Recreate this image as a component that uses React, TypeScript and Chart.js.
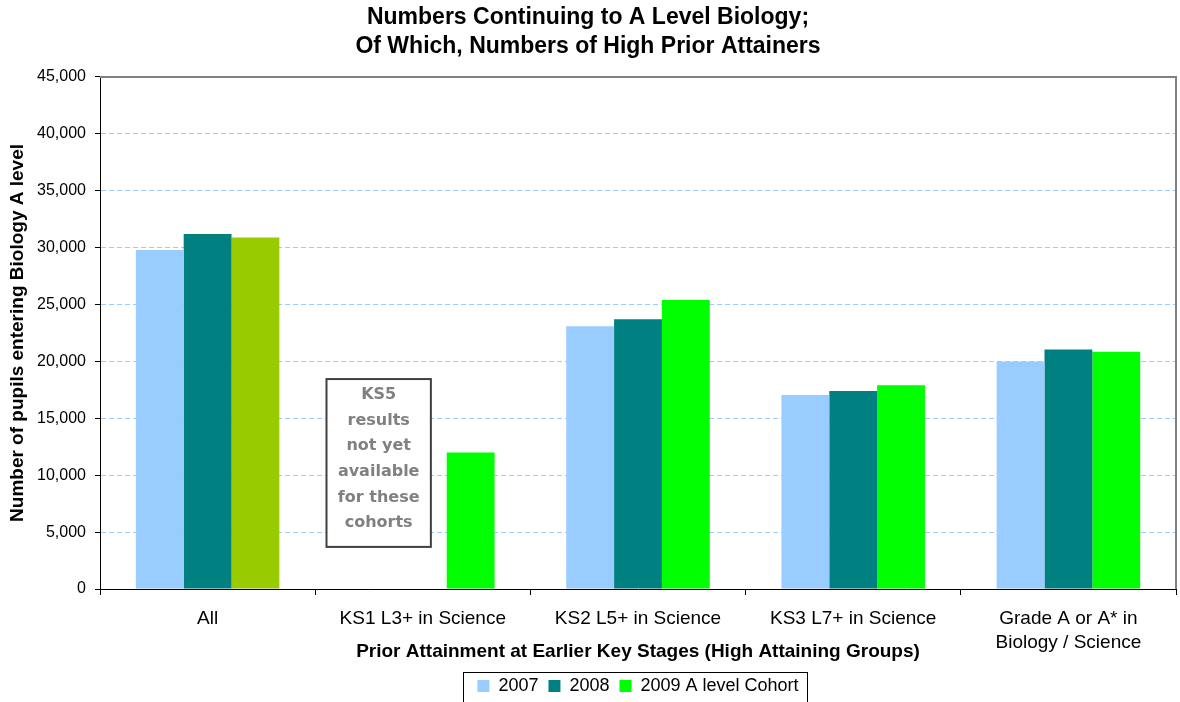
import React, { useEffect, useRef } from "react";
import { Chart, registerables } from "chart.js";

Chart.register(...registerables);

const categories: (string | string[])[] = [
  "All",
  "KS1 L3+ in Science",
  "KS2 L5+ in Science",
  "KS3 L7+ in Science",
  ["Grade A or A* in", "Biology / Science"],
];
const values2007: (number | null)[] = [29800, null, 23100, 17050, 20000];
const values2008: (number | null)[] = [31200, null, 23700, 17400, 21050];
const values2009: (number | null)[] = [30900, 12000, 25400, 17900, 20850];
const seriesLabels = ["2007", "2008", "2009 A level Cohort"];
const seriesColors = ["#99CCFF", "#008080", "#00FF00"];
const allCohortColor = "#99CC00";
const titleLines = ["Numbers Continuing to A Level Biology;", "Of Which, Numbers of High Prior Attainers"];
const yTitle = "Number of pupils entering Biology A level";
const xTitle = "Prior Attainment at Earlier Key Stages (High Attaining Groups)";
const noteLines = ["KS5", "results", "not yet", "available", "for these", "cohorts"];
const yMax = 45000;
const yStep = 5000;

const FONT = "'Liberation Sans', Arial, sans-serif";

export default function App() {
  const ref = useRef<HTMLCanvasElement | null>(null);
  useEffect(() => {
    if (!ref.current) return;
    const decor = {
      id: "decor",
      afterDatasetsDraw(chart: any) {
        const { ctx, scales } = chart;
        const x = scales.x;
        const y = scales.y;
        const catW = x.getPixelForValue(1) - x.getPixelForValue(0);
        const cx = x.getPixelForValue(1) - 0.205 * catW;
        const w = 0.485 * catW;
        const top = y.getPixelForValue(18450);
        const bot = y.getPixelForValue(3700);
        ctx.save();
        ctx.fillStyle = "#ffffff";
        ctx.fillRect(cx - w / 2, top, w, bot - top);
        ctx.strokeStyle = "#404040";
        ctx.lineWidth = 2;
        ctx.strokeRect(cx - w / 2, top, w, bot - top);
        ctx.fillStyle = "#808080";
        ctx.font = "bold 16px 'DejaVu Sans', Verdana, sans-serif";
        ctx.textAlign = "center";
        ctx.textBaseline = "middle";
        const lh = 25.6;
        noteLines.forEach((t, i) => ctx.fillText(t, cx, top + 16 + lh * i));
        ctx.restore();
      },
      afterDraw(chart: any) {
        const { ctx, chartArea, legend } = chart;
        ctx.save();
        ctx.strokeStyle = "#808080";
        ctx.lineWidth = 2;
        ctx.beginPath();
        ctx.moveTo(chartArea.left, chartArea.top);
        ctx.lineTo(chartArea.right, chartArea.top);
        ctx.lineTo(chartArea.right, chartArea.bottom);
        ctx.stroke();
        if (legend && legend.legendHitBoxes && legend.legendHitBoxes.length) {
          const hb = legend.legendHitBoxes;
          const l = Math.min(...hb.map((b: any) => b.left)) - 14;
          const r = Math.max(...hb.map((b: any) => b.left + b.width)) + 9;
          ctx.strokeStyle = "#000000";
          ctx.lineWidth = 1;
          ctx.strokeRect(Math.round(l) + 0.5, 672.5, Math.round(r - l), 40);
        }
        ctx.restore();
      },
    };
    const chart = new Chart(ref.current, {
      type: "bar",
      data: {
        labels: categories,
        datasets: [
          { label: seriesLabels[0], data: values2007, backgroundColor: seriesColors[0] },
          { label: seriesLabels[1], data: values2008, backgroundColor: seriesColors[1] },
          {
            label: seriesLabels[2],
            data: values2009,
            backgroundColor: (c: any) => (c.type === "data" && c.dataIndex === 0 ? allCohortColor : seriesColors[2]),
          },
        ],
      },
      options: {
        responsive: false,
        animation: false,
        layout: { padding: { left: 0, right: 4, top: 0, bottom: -3 } },
        datasets: { bar: { categoryPercentage: 0.667, barPercentage: 1, borderWidth: 0 } },
        plugins: {
          title: {
            display: true,
            text: titleLines,
            color: "#000",
            font: { family: FONT, size: 23, weight: "bold", lineHeight: 1.26 },
            padding: { top: 3, bottom: 16 },
          },
          legend: {
            position: "bottom",
            fullSize: false,
            labels: {
              color: "#000",
              font: { family: FONT, size: 18 },
              boxWidth: 12,
              boxHeight: 12,
              padding: 10,
              generateLabels: (ch: any) => {
                const items = Chart.defaults.plugins.legend.labels.generateLabels(ch);
                items.forEach((it: any, i: number) => {
                  it.fillStyle = seriesColors[i];
                  it.strokeStyle = seriesColors[i];
                  it.lineWidth = 0;
                });
                return items;
              },
            },
          },
          tooltip: { enabled: false },
        },
        scales: {
          x: {
            grid: {
              display: true,
              offset: true,
              drawOnChartArea: false,
              tickLength: 6,
              color: "#000",
            },
            border: { color: "#000", width: 1 },
            ticks: { color: "#000", font: { family: FONT, size: 19, lineHeight: 1.26 }, padding: 12, maxRotation: 0, autoSkip: false },
            title: {
              display: true,
              text: xTitle,
              color: "#000",
              font: { family: FONT, size: 19, weight: "bold" },
              padding: { top: 0, bottom: 4 },
            },
            afterFit: (s: any) => {
              s.height = 78;
            },
          },
          y: {
            min: 0,
            max: yMax,
            grid: {
              color: (c: any) => (c.tick && (c.tick.value === 0 || c.tick.value === yMax) ? "rgba(0,0,0,0)" : "#99CCFF"),
              tickColor: "#000",
              tickLength: 5,
              tickBorderDash: [],
            },
            border: { color: "#000", width: 1, dash: [5, 3] },
            ticks: {
              stepSize: yStep,
              color: "#000",
              padding: 9,
              font: { family: FONT, size: 16 },
              callback: (v: any) => Number(v).toLocaleString("en-US"),
            },
            title: {
              display: true,
              text: yTitle,
              color: "#000",
              font: { family: FONT, size: 19, weight: "bold" },
              padding: { top: 6, bottom: 0 },
            },
            afterFit: (s: any) => {
              s.width = 100;
            },
          },
        },
      },
      plugins: [decor],
    } as any);
    return () => chart.destroy();
  }, []);
  return (
    <div style={{ position: "absolute", left: 0, top: 0, width: 1180, height: 702, background: "#fff" }}>
      <canvas ref={ref} width={1180} height={702} />
    </div>
  );
}
